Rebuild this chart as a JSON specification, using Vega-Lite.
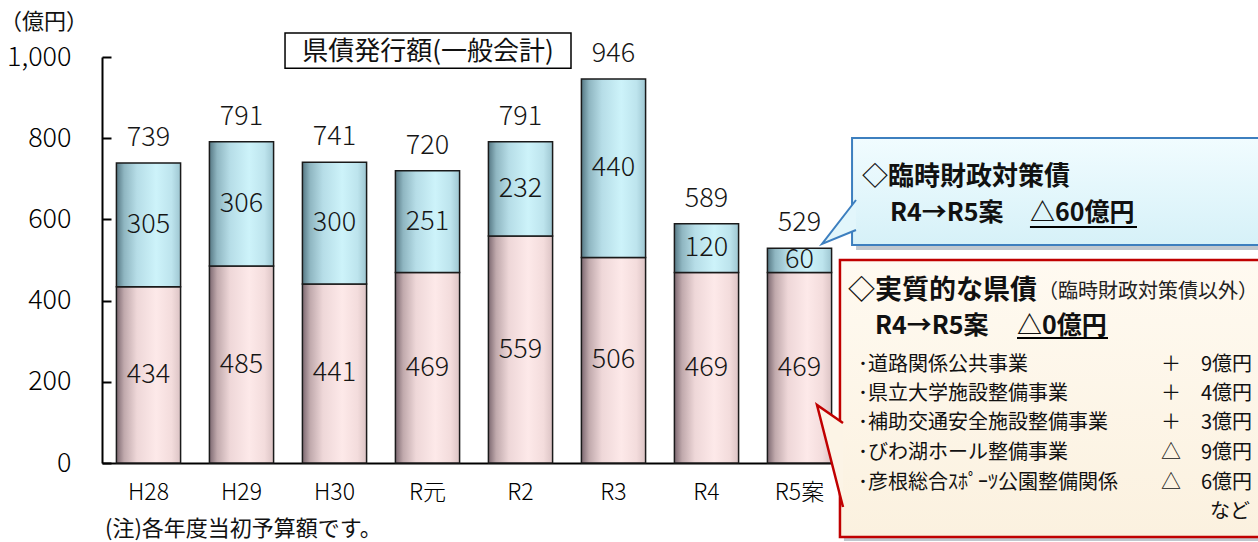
{
  "$schema": "https://vega.github.io/schema/vega-lite/v6.json",
  "width": 744,
  "height": 406,
  "autosize": {"type": "none"},
  "padding": {"left": 102, "top": 57, "right": 412, "bottom": 79},
  "background": "#ffffff",
  "config": {
    "font": "Noto Sans CJK JP",
    "view": {"stroke": null},
    "text": {"font": "Noto Sans CJK JP"},
    "axisX": {"labelAngle": 0, "labelFontSize": 23, "labelFontWeight": 300, "labelColor": "#000", "tickSize": 0, "domainColor": "#000", "domainWidth": 2, "labelPadding": 18, "labelFont": "Noto Sans CJK JP", "grid": false},
    "axisY": {"grid": false, "tickSize": -9, "tickWidth": 2, "tickColor": "#000", "domainColor": "#000", "domainWidth": 2, "labelFontSize": 27, "labelFontWeight": 300, "labelColor": "#000", "labelPadding": 40, "labelFont": "Noto Sans CJK JP"}
  },
  "datasets": {
    "parts": [
      {"year": "H28", "part": "lower", "value": 434}, {"year": "H28", "part": "upper", "value": 305},
      {"year": "H29", "part": "lower", "value": 485}, {"year": "H29", "part": "upper", "value": 306},
      {"year": "H30", "part": "lower", "value": 441}, {"year": "H30", "part": "upper", "value": 300},
      {"year": "R元", "part": "lower", "value": 469}, {"year": "R元", "part": "upper", "value": 251},
      {"year": "R2", "part": "lower", "value": 559}, {"year": "R2", "part": "upper", "value": 232},
      {"year": "R3", "part": "lower", "value": 506}, {"year": "R3", "part": "upper", "value": 440},
      {"year": "R4", "part": "lower", "value": 469}, {"year": "R4", "part": "upper", "value": 120},
      {"year": "R5案", "part": "lower", "value": 469}, {"year": "R5案", "part": "upper", "value": 60}
    ],
    "totals": [
      {"year": "H28", "total": 739}, {"year": "H29", "total": 791}, {"year": "H30", "total": 741},
      {"year": "R元", "total": 720}, {"year": "R2", "total": 791}, {"year": "R3", "total": 946},
      {"year": "R4", "total": 589}, {"year": "R5案", "total": 529}
    ],
    "texts": [
      {"role": "unit", "u": -1.097, "v": 1086, "text": "（億円）"},
      {"role": "title", "u": 3.505, "v": 1013.5, "text": "県債発行額(一般会計)"},
      {"role": "note", "u": 0.032, "v": -162.6, "text": "(注)各年度当初予算額です。"},
      {"role": "bhead", "u": 8.172, "v": 704.4, "text": "◇臨時財政対策債"},
      {"role": "sub", "u": 8.473, "v": 615.8, "text": "R4→R5案"},
      {"role": "sub", "u": 9.978, "v": 615.8, "text": "△60億円"},
      {"role": "rhead", "u": 8.022, "v": 423.6, "text": "◇実質的な県債"},
      {"role": "rparen", "u": 10.065, "v": 421.2, "text": "（臨時財政対策債以外）"},
      {"role": "sub", "u": 8.312, "v": 337.4, "text": "R4→R5案"},
      {"role": "sub", "u": 9.839, "v": 337.4, "text": "△0億円"},
      {"role": "item", "u": 8.129, "v": 241.4, "text": "･道路関係公共事業"},
      {"role": "item", "u": 8.129, "v": 170.0, "text": "･県立大学施設整備事業"},
      {"role": "item", "u": 8.129, "v": 97.3, "text": "･補助交通安全施設整備事業"},
      {"role": "item", "u": 8.129, "v": 24.6, "text": "･びわ湖ホール整備事業"},
      {"role": "item", "u": 8.129, "v": -49.3, "text": "･彦根総合ｽﾎﾟｰﾂ公園整備関係"},
      {"role": "val", "u": 12.366, "v": 241.4, "text": "＋　9億円"},
      {"role": "val", "u": 12.366, "v": 170.0, "text": "＋　4億円"},
      {"role": "val", "u": 12.366, "v": 97.3, "text": "＋　3億円"},
      {"role": "val", "u": 12.366, "v": 24.6, "text": "△　9億円"},
      {"role": "val", "u": 12.366, "v": -49.3, "text": "△　6億円"},
      {"role": "val", "u": 12.344, "v": -120.7, "text": "など"}
    ],
    "lines": [
      {"u1": 9.978, "u2": 11.129, "v": 581.3},
      {"u1": 9.839, "u2": 10.817, "v": 307.9}
    ]
  },
  "resolve": {"scale": {"x": "independent", "y": "independent"}, "axis": {"x": "independent", "y": "independent"}},
  "layer": [
    {
      "layer": [
        {
          "data": {"name": "parts"},
          "mark": {"type": "bar", "stroke": "#1a1a1a", "strokeWidth": 1.5},
          "encoding": {
            "x": {"field": "year", "type": "nominal", "sort": null,
                  "scale": {"paddingInner": 0.31, "paddingOuter": 0.155},
                  "axis": {"title": null}},
            "y": {"field": "value", "type": "quantitative", "stack": "zero",
                  "scale": {"domain": [0, 1000], "nice": false},
                  "axis": {"title": null, "values": [0, 200, 400, 600, 800, 1000], "format": ",d"}},
            "order": {"field": "part", "sort": "ascending"},
            "detail": {"field": "part"},
            "fill": {
              "condition": {"test": "datum.part === 'upper'",
                "value": {"gradient": "linear", "x1": 0, "y1": 0, "x2": 1, "y2": 0,
                  "stops": [{"offset": 0, "color": "#567884"}, {"offset": 0.12, "color": "#8fb6c1"}, {"offset": 0.32, "color": "#b6dde7"}, {"offset": 0.62, "color": "#cdf3fa"}, {"offset": 0.86, "color": "#bde4ed"}, {"offset": 1, "color": "#9ec6d1"}]}},
              "value": {"gradient": "linear", "x1": 0, "y1": 0, "x2": 1, "y2": 0,
                  "stops": [{"offset": 0, "color": "#7c6870"}, {"offset": 0.12, "color": "#c0a9ac"}, {"offset": 0.32, "color": "#eed7d8"}, {"offset": 0.62, "color": "#fde9e9"}, {"offset": 0.86, "color": "#f3dcdc"}, {"offset": 1, "color": "#dbc3c4"}]}
            }
          }
        },
        {
          "data": {"name": "parts"},
          "mark": {"type": "text", "fontSize": 27, "fontWeight": 300, "color": "#161616", "baseline": "middle"},
          "encoding": {
            "x": {"field": "year", "type": "nominal", "sort": null, "scale": {"paddingInner": 0.31, "paddingOuter": 0.155}, "axis": {"title": null}},
            "y": {"field": "value", "type": "quantitative", "stack": "zero", "bandPosition": 0.5, "scale": {"domain": [0, 1000], "nice": false}, "axis": {"title": null}},
            "order": {"field": "part", "sort": "ascending"},
            "detail": {"field": "part"},
            "text": {"field": "value", "type": "quantitative"}
          }
        },
        {
          "data": {"name": "totals"},
          "mark": {"type": "text", "fontSize": 27, "fontWeight": 300, "color": "#161616", "baseline": "middle", "dy": -25},
          "encoding": {
            "x": {"field": "year", "type": "nominal", "sort": null, "scale": {"paddingInner": 0.31, "paddingOuter": 0.155}, "axis": {"title": null}},
            "y": {"field": "total", "type": "quantitative", "scale": {"domain": [0, 1000], "nice": false}, "axis": {"title": null}},
            "text": {"field": "total", "type": "quantitative"}
          }
        }
      ]
    },
    {
      "layer": [
        {
          "data": {"values": [{"u1": 1.968, "u2": 5.043, "v1": 1059.1, "v2": 972}]},
          "mark": {"type": "rect", "fill": "#ffffff", "stroke": "#000000", "strokeWidth": 1.5},
          "encoding": {
            "x": {"field": "u1", "type": "quantitative", "scale": {"domain": [0, 8], "nice": false, "zero": false}, "axis": null},
            "x2": {"field": "u2"},
            "y": {"field": "v1", "type": "quantitative", "scale": {"domain": [0, 1000], "nice": false}, "axis": null},
            "y2": {"field": "v2"}
          }
        },
        {
          "data": {"values": [{"u1": 8.108, "u2": 12.6, "v1": 790.6, "v2": 524.6}, {"u1": 7.978, "u2": 12.6, "v1": 490.1, "v2": -192.1}]},
          "mark": {"type": "rect", "fill": "#8d99a5", "opacity": 0.55},
          "encoding": {
            "x": {"field": "u1", "type": "quantitative", "scale": {"domain": [0, 8], "nice": false, "zero": false}, "axis": null},
            "x2": {"field": "u2"},
            "y": {"field": "v1", "type": "quantitative", "scale": {"domain": [0, 1000], "nice": false}, "axis": null},
            "y2": {"field": "v2"}
          }
        },
        {
          "data": {"values": [{"u1": 8.065, "u2": 12.6, "v1": 800.5, "v2": 537}]},
          "mark": {"type": "rect", "stroke": "#3d7fbf", "strokeWidth": 2,
                   "fill": {"gradient": "linear", "x1": 0, "y1": 0, "x2": 0, "y2": 1, "stops": [{"offset": 0, "color": "#f1fcff"}, {"offset": 1, "color": "#d6f1f8"}]}},
          "encoding": {
            "x": {"field": "u1", "type": "quantitative", "scale": {"domain": [0, 8], "nice": false, "zero": false}, "axis": null},
            "x2": {"field": "u2"},
            "y": {"field": "v1", "type": "quantitative", "scale": {"domain": [0, 1000], "nice": false}, "axis": null},
            "y2": {"field": "v2"}
          }
        },
        {
          "data": {"values": [{"u": 7.914, "v": 593.6}]},
          "mark": {"type": "point", "shape": "M0.818,-1L-0.727,1L0.818,0.364", "size": 1936, "filled": true, "fill": "#e2f6fb", "stroke": "#3d7fbf", "strokeWidth": 2, "opacity": 1, "fillOpacity": 1, "strokeOpacity": 1},
          "encoding": {
            "x": {"field": "u", "type": "quantitative", "scale": {"domain": [0, 8], "nice": false, "zero": false}, "axis": null},
            "y": {"field": "v", "type": "quantitative", "scale": {"domain": [0, 1000], "nice": false}, "axis": null}
          }
        },
        {
          "data": {"values": [{"u1": 7.935, "u2": 12.6, "v1": 500, "v2": -182.3}]},
          "mark": {"type": "rect", "stroke": "#c00000", "strokeWidth": 2.5,
                   "fill": {"gradient": "linear", "x1": 0, "y1": 0, "x2": 0, "y2": 1, "stops": [{"offset": 0, "color": "#fffaf1"}, {"offset": 1, "color": "#fbf1df"}]}},
          "encoding": {
            "x": {"field": "u1", "type": "quantitative", "scale": {"domain": [0, 8], "nice": false, "zero": false}, "axis": null},
            "x2": {"field": "u2"},
            "y": {"field": "v1", "type": "quantitative", "scale": {"domain": [0, 1000], "nice": false}, "axis": null},
            "y2": {"field": "v2"}
          }
        },
        {
          "data": {"values": [{"u": 7.828, "v": 17.2}]},
          "mark": {"type": "point", "shape": "M0.255,-0.647L-0.255,-1L0.255,1", "size": 10404, "filled": true, "fill": "#fcf4e6", "stroke": "#c00000", "strokeWidth": 2.5, "opacity": 1, "fillOpacity": 1, "strokeOpacity": 1},
          "encoding": {
            "x": {"field": "u", "type": "quantitative", "scale": {"domain": [0, 8], "nice": false, "zero": false}, "axis": null},
            "y": {"field": "v", "type": "quantitative", "scale": {"domain": [0, 1000], "nice": false}, "axis": null}
          }
        },
        {
          "data": {"name": "lines"},
          "mark": {"type": "rule", "color": "#000", "strokeWidth": 2},
          "encoding": {
            "x": {"field": "u1", "type": "quantitative", "scale": {"domain": [0, 8], "nice": false, "zero": false}, "axis": null},
            "x2": {"field": "u2"},
            "y": {"field": "v", "type": "quantitative", "scale": {"domain": [0, 1000], "nice": false}, "axis": null}
          }
        },
        {
          "data": {"name": "texts"},
          "transform": [{"filter": "datum.role === 'unit'"}],
          "mark": {"type": "text", "fontSize": 22, "align": "left", "baseline": "middle", "color": "#111"},
          "encoding": {
            "x": {"field": "u", "type": "quantitative", "scale": {"domain": [0, 8], "nice": false, "zero": false}, "axis": null},
            "y": {"field": "v", "type": "quantitative", "scale": {"domain": [0, 1000], "nice": false}, "axis": null},
            "text": {"field": "text"}
          }
        },
        {
          "data": {"name": "texts"},
          "transform": [{"filter": "datum.role === 'title'"}],
          "mark": {"type": "text", "fontSize": 26, "align": "center", "baseline": "middle", "color": "#111"},
          "encoding": {
            "x": {"field": "u", "type": "quantitative", "scale": {"domain": [0, 8], "nice": false, "zero": false}, "axis": null},
            "y": {"field": "v", "type": "quantitative", "scale": {"domain": [0, 1000], "nice": false}, "axis": null},
            "text": {"field": "text"}
          }
        },
        {
          "data": {"name": "texts"},
          "transform": [{"filter": "datum.role === 'note'"}],
          "mark": {"type": "text", "fontSize": 22, "align": "left", "baseline": "middle", "color": "#111"},
          "encoding": {
            "x": {"field": "u", "type": "quantitative", "scale": {"domain": [0, 8], "nice": false, "zero": false}, "axis": null},
            "y": {"field": "v", "type": "quantitative", "scale": {"domain": [0, 1000], "nice": false}, "axis": null},
            "text": {"field": "text"}
          }
        },
        {
          "data": {"name": "texts"},
          "transform": [{"filter": "datum.role === 'bhead'"}],
          "mark": {"type": "text", "fontSize": 26, "fontWeight": "bold", "align": "left", "baseline": "middle", "color": "#111"},
          "encoding": {
            "x": {"field": "u", "type": "quantitative", "scale": {"domain": [0, 8], "nice": false, "zero": false}, "axis": null},
            "y": {"field": "v", "type": "quantitative", "scale": {"domain": [0, 1000], "nice": false}, "axis": null},
            "text": {"field": "text"}
          }
        },
        {
          "data": {"name": "texts"},
          "transform": [{"filter": "datum.role === 'rhead'"}],
          "mark": {"type": "text", "fontSize": 27, "fontWeight": "bold", "align": "left", "baseline": "middle", "color": "#111"},
          "encoding": {
            "x": {"field": "u", "type": "quantitative", "scale": {"domain": [0, 8], "nice": false, "zero": false}, "axis": null},
            "y": {"field": "v", "type": "quantitative", "scale": {"domain": [0, 1000], "nice": false}, "axis": null},
            "text": {"field": "text"}
          }
        },
        {
          "data": {"name": "texts"},
          "transform": [{"filter": "datum.role === 'rparen'"}],
          "mark": {"type": "text", "fontSize": 20, "align": "left", "baseline": "middle", "color": "#222"},
          "encoding": {
            "x": {"field": "u", "type": "quantitative", "scale": {"domain": [0, 8], "nice": false, "zero": false}, "axis": null},
            "y": {"field": "v", "type": "quantitative", "scale": {"domain": [0, 1000], "nice": false}, "axis": null},
            "text": {"field": "text"}
          }
        },
        {
          "data": {"name": "texts"},
          "transform": [{"filter": "datum.role === 'sub'"}],
          "mark": {"type": "text", "fontSize": 25, "fontWeight": "bold", "align": "left", "baseline": "middle", "color": "#111"},
          "encoding": {
            "x": {"field": "u", "type": "quantitative", "scale": {"domain": [0, 8], "nice": false, "zero": false}, "axis": null},
            "y": {"field": "v", "type": "quantitative", "scale": {"domain": [0, 1000], "nice": false}, "axis": null},
            "text": {"field": "text"}
          }
        },
        {
          "data": {"name": "texts"},
          "transform": [{"filter": "datum.role === 'item'"}],
          "mark": {"type": "text", "fontSize": 20, "align": "left", "baseline": "middle", "color": "#111"},
          "encoding": {
            "x": {"field": "u", "type": "quantitative", "scale": {"domain": [0, 8], "nice": false, "zero": false}, "axis": null},
            "y": {"field": "v", "type": "quantitative", "scale": {"domain": [0, 1000], "nice": false}, "axis": null},
            "text": {"field": "text"}
          }
        },
        {
          "data": {"name": "texts"},
          "transform": [{"filter": "datum.role === 'val'"}],
          "mark": {"type": "text", "fontSize": 20, "align": "right", "baseline": "middle", "color": "#111"},
          "encoding": {
            "x": {"field": "u", "type": "quantitative", "scale": {"domain": [0, 8], "nice": false, "zero": false}, "axis": null},
            "y": {"field": "v", "type": "quantitative", "scale": {"domain": [0, 1000], "nice": false}, "axis": null},
            "text": {"field": "text"}
          }
        }
      ]
    }
  ]
}
